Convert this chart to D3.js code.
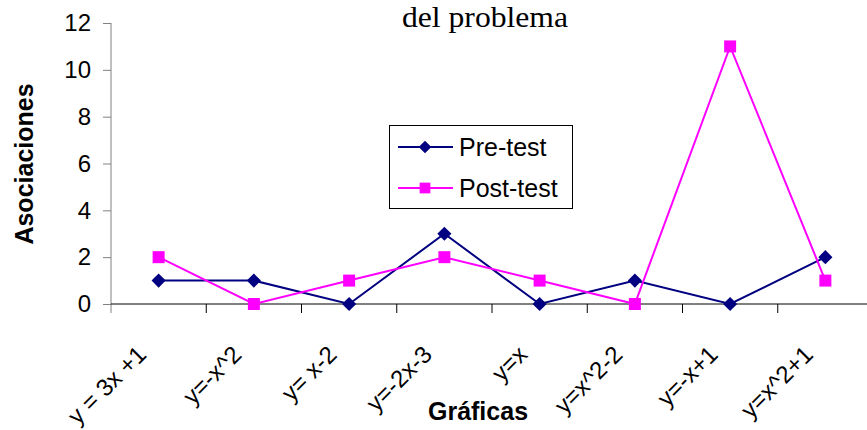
<!DOCTYPE html>
<html>
<head>
<meta charset="utf-8">
<script src="https://cdn.jsdelivr.net/npm/d3@7"></script>
<style>
  body { margin: 0; background: #fff; }
  svg { display: block; }
</style>
</head>
<body>
<div id="chart"></div>
<script>
// categories and series
const categories = ['y = 3x +1', 'y=-x^2', 'y= x-2', 'y=-2x-3', 'y=x', 'y=x^2-2', 'y=-x+1', 'y=x^2+1'];
const preTest = [1, 1, 0, 3, 0, 1, 0, 2];
const postTest = [2, 0, 1, 2, 1, 0, 11, 1];
const yTicks = [0, 2, 4, 6, 8, 10, 12];

const width = 867;
const height = 430;
const plot = { left: 111, right: 873, top: 23, bottom: 304 };

const svg = d3.select('#chart')
  .append('svg')
  .attr('width', width)
  .attr('height', height);

const x = d3.scaleBand()
  .domain(categories)
  .range([plot.left, plot.right]);

const y = d3.scaleLinear()
  .domain([0, 12])
  .range([plot.bottom, plot.top]);

const font = 'Arial, "Liberation Sans", sans-serif';

// y axis
const yAxis = svg.append('g')
  .attr('transform', `translate(${plot.left},0)`)
  .call(d3.axisLeft(y).tickValues(yTicks).tickSize(8).tickPadding(12).tickFormat(d3.format('d')));
yAxis.select('.domain').attr('stroke', '#808080').attr('d', `M0,${plot.top}V${plot.bottom + 9}`);
yAxis.selectAll('.tick line').attr('stroke', '#808080');
yAxis.selectAll('.tick text')
  .attr('font-family', font)
  .attr('font-size', 24)
  .attr('fill', '#000');

// x axis (category boundaries)
const bounds = categories.map(c => x(c));
const xAxis = svg.append('g');
xAxis.append('line')
  .attr('x1', plot.left).attr('x2', width)
  .attr('y1', plot.bottom).attr('y2', plot.bottom)
  .attr('stroke', '#000');
xAxis.selectAll('line.tk')
  .data(bounds.slice(1))
  .enter()
  .append('line')
  .attr('class', 'tk')
  .attr('x1', d => d).attr('x2', d => d)
  .attr('y1', plot.bottom).attr('y2', plot.bottom + 9)
  .attr('stroke', '#000');

xAxis.selectAll('text')
  .data(categories)
  .enter()
  .append('text')
  .attr('transform', d => `translate(${x(d) + x.bandwidth() / 2 - 11},356) rotate(-45)`)
  .attr('text-anchor', 'end')
  .attr('font-family', font)
  .attr('font-size', 24)
  .text(d => d);

// titles
svg.append('text')
  .attr('x', 402)
  .attr('y', 27)
  .attr('textLength', 166)
  .attr('lengthAdjust', 'spacingAndGlyphs')
  .attr('font-family', '"Times New Roman", "Liberation Serif", serif')
  .attr('font-size', 30)
  .text('del problema');

svg.append('text')
  .attr('transform', 'translate(33,164) rotate(-90)')
  .attr('text-anchor', 'middle')
  .attr('font-family', font)
  .attr('font-weight', 'bold')
  .attr('font-size', 25)
  .text('Asociaciones');

svg.append('text')
  .attr('x', 478)
  .attr('y', 420)
  .attr('text-anchor', 'middle')
  .attr('font-family', font)
  .attr('font-weight', 'bold')
  .attr('font-size', 25)
  .text('Gráficas');

// series
const cx = (d, i) => x(categories[i]) + x.bandwidth() / 2;
const line = d3.line().x(cx).y(d => y(d));

const series = [
  { name: 'Pre-test', values: preTest, color: '#000080', size: 100, rotate: 45 },
  { name: 'Post-test', values: postTest, color: '#FF00FF', size: 144, rotate: 0 },
];

series.forEach(s => {
  svg.append('path')
    .attr('d', line(s.values))
    .attr('fill', 'none')
    .attr('stroke', s.color)
    .attr('stroke-width', 2);
  svg.selectAll(null)
    .data(s.values)
    .enter()
    .append('path')
    .attr('d', d3.symbol(d3.symbolSquare, s.size))
    .attr('transform', (d, i) => `translate(${cx(d, i)},${y(d)}) rotate(${s.rotate})`)
    .attr('fill', s.color);
});

// legend
const legend = svg.append('g').attr('transform', 'translate(389,125)');
legend.append('rect')
  .attr('x', 0.5).attr('y', 0.5)
  .attr('width', 183).attr('height', 83)
  .attr('fill', '#fff')
  .attr('stroke', '#000');

series.forEach((s, i) => {
  const ly = 22 + i * 41;
  legend.append('line')
    .attr('x1', 9).attr('x2', 64)
    .attr('y1', ly).attr('y2', ly)
    .attr('stroke', s.color)
    .attr('stroke-width', 2);
  legend.append('path')
    .attr('d', d3.symbol(d3.symbolSquare, s.size * 0.8))
    .attr('transform', `translate(36,${ly}) rotate(${s.rotate})`)
    .attr('fill', s.color);
  legend.append('text')
    .attr('x', 70)
    .attr('y', ly)
    .attr('dy', '0.35em')
    .attr('font-family', font)
    .attr('font-size', 25)
    .text(s.name);
});
</script>
</body>
</html>
